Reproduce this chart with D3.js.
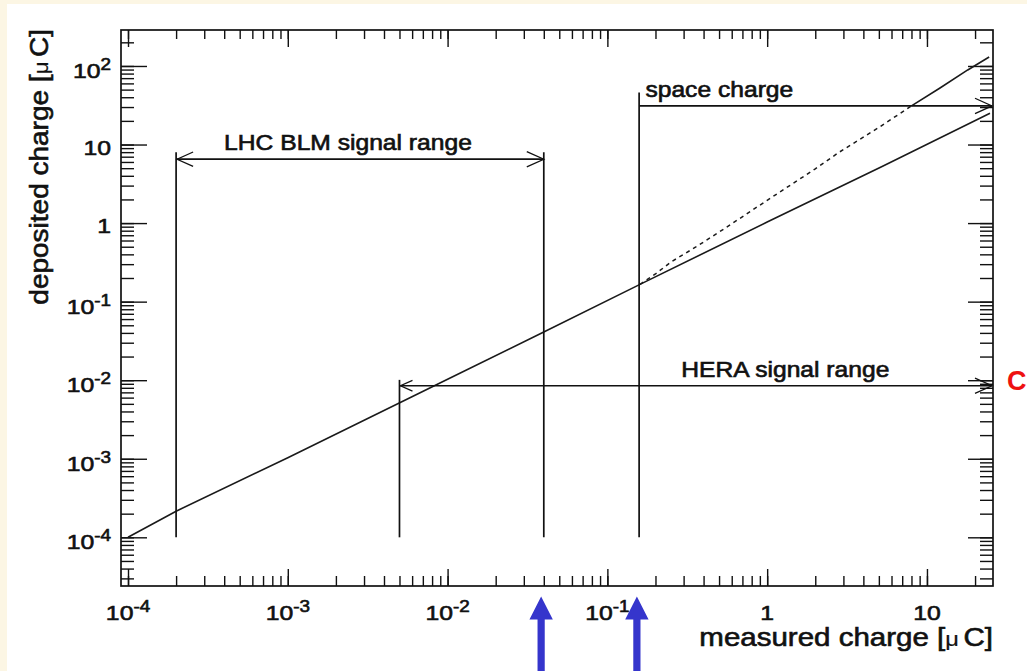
<!DOCTYPE html>
<html><head><meta charset="utf-8">
<script src="https://cdn.jsdelivr.net/npm/d3@7"></script>
<style>
body{margin:0;background:#fcf6e4}
svg{display:block}
text{font-family:"Liberation Sans",Arial,Helvetica,sans-serif;fill:#111}
</style></head>
<body><svg id="chart" width="1027" height="671"></svg>
<script>
// ---------- data ----------
const xDomain = [9.04e-5, 25.9];
const yDomain = [2.4e-5, 287];

const linearMeasured  = [1e-4, 2e-4, 1e-3, 1e-2, 0.04, 0.16, 1, 5.2, 24.8];
const linearDeposited = [1e-4, 2.15e-4, 1.03e-3, 1.03e-2, 0.041, 0.166, 1.03, 5.2, 25];

const scMeasured  = [0.16, 0.2, 0.25, 0.36, 0.55, 1, 2, 2.8, 5, 8, 12, 18, 24.5];
const scDeposited = [0.166, 0.225, 0.32, 0.5, 0.87, 1.95, 4.9, 7.9, 16.5, 31, 52, 89, 130];
const scSolidFrom = 8;

const xTickValues = [1e-4, 1e-3, 1e-2, 1e-1, 1, 10];
const xTickBase   = ["10", "10", "10", "10", "1", "10"];
const xTickExp    = ["-4", "-3", "-2", "-1", "", ""];
const yTickValues = [1e-4, 1e-3, 1e-2, 1e-1, 1, 10, 100];
const yTickBase   = ["10", "10", "10", "10", "1", "10", "10"];
const yTickExp    = ["-4", "-3", "-2", "-1", "", "", "2"];

const rangeLabels      = ["LHC BLM signal range", "space charge", "HERA signal range"];
const rangeFrom        = [2e-4, 0.158, 0.005];
const rangeTo          = [0.04, 25.9, 25.9];
const rangeLevel       = [6.5, 31, 0.0085];
const rangeArrowLeft   = [true, false, true];
const rangeArrowRight  = [true, true, true];
const rangeLabelX      = [2.38e-3, 0.173, 0.29];
const rangeLabelAnchor = ["middle", "start", "start"];

const barX      = [2e-4, 0.04, 0.158, 0.005];
const barTop    = [8, 8, 46, 0.0101];
const barBottom = 1e-4;

const markerX = [0.0385, 0.153];

const xTitle = "measured charge [";
const yTitle = "deposited charge [";
const unitMu = "\u03bc";
const unitRest = "C]";

// ---------- drawing ----------
const svg = d3.select("#chart");
const L = 121, R = 993, T = 30, B = 586;
svg.append("rect").attr("x", 0).attr("y", 0).attr("width", 1027).attr("height", 671).attr("fill", "#fcf6e4");
svg.append("rect").attr("x", 7).attr("y", 4).attr("width", 1020).attr("height", 667).attr("fill", "#ffffff");

const x = d3.scaleLog().domain(xDomain).range([L, R]);
const y = d3.scaleLog().domain(yDomain).range([B, T]);

const minorX = x.ticks().filter(v => v >= xDomain[0] && v <= xDomain[1]);
const minorY = y.ticks().filter(v => v >= yDomain[0] && v <= yDomain[1]);

function addAxis(axis, tr) {
  const g = svg.append("g").attr("transform", tr).attr("color", "#111").call(axis);
  g.select(".domain").remove();
  g.selectAll("line").attr("stroke-width", 1.4);
  g.selectAll("text").remove();
}
addAxis(d3.axisBottom(x).tickValues(minorX).tickSizeInner(-10).tickSizeOuter(0), `translate(0,${B})`);
addAxis(d3.axisBottom(x).tickValues(xTickValues).tickSizeInner(-17).tickSizeOuter(0), `translate(0,${B})`);
addAxis(d3.axisTop(x).tickValues(minorX).tickSizeInner(-9).tickSizeOuter(0), `translate(0,${T})`);
addAxis(d3.axisTop(x).tickValues(xTickValues).tickSizeInner(-17).tickSizeOuter(0), `translate(0,${T})`);
addAxis(d3.axisLeft(y).tickValues(minorY).tickSizeInner(-13).tickSizeOuter(0), `translate(${L},0)`);
addAxis(d3.axisLeft(y).tickValues(yTickValues).tickSizeInner(-26).tickSizeOuter(0), `translate(${L},0)`);
addAxis(d3.axisRight(y).tickValues(minorY).tickSizeInner(-13).tickSizeOuter(0), `translate(${R},0)`);
addAxis(d3.axisRight(y).tickValues(yTickValues).tickSizeInner(-25).tickSizeOuter(0), `translate(${R},0)`);

svg.append("rect").attr("x", L).attr("y", T).attr("width", R - L).attr("height", B - T)
  .attr("fill", "none").attr("stroke", "#111").attr("stroke-width", 1.7);

// tick labels
function powLabel(px, py, base, exp, anchor, sx) {
  const t = svg.append("text").attr("transform", `translate(${px},${py}) scale(${sx},1)`)
    .attr("text-anchor", anchor).attr("font-size", 21)
    .attr("stroke", "#111").attr("stroke-width", 0.6);
  t.append("tspan").text(base);
  if (exp) t.append("tspan").attr("font-size", 16).attr("dy", -8).text(exp);
}
xTickValues.forEach((v, i) => powLabel(x(v), 620, xTickBase[i], xTickExp[i], "middle", 1.18));
yTickValues.forEach((v, i) => powLabel(111, y(v) + (yTickExp[i] ? 12 : 10), yTickBase[i], yTickExp[i], "end", 1.18));

// axis titles
function title(tr, txt) {
  const t = svg.append("text").attr("transform", tr).attr("text-anchor", "end")
    .attr("font-size", 25).attr("stroke", "#111").attr("stroke-width", 0.6);
  t.append("tspan").text(txt);
  t.append("tspan").attr("font-size", 20).attr("stroke-width", 0.2).text(unitMu);
  t.append("tspan").attr("dx", 4).text(unitRest);
}
title(`translate(993,646) scale(1.18,1)`, xTitle);
title(`translate(48,29) rotate(-90) scale(1.12,1)`, yTitle);

// curves
const line = d3.line().x(d => x(d[0])).y(d => y(d[1]));
const linPts = d3.zip(linearMeasured, linearDeposited);
const scPts = d3.zip(scMeasured, scDeposited);
svg.append("path").attr("d", line(linPts)).attr("fill", "none").attr("stroke", "#1a1a1a").attr("stroke-width", 1.6);
svg.append("path").attr("d", line(scPts.filter(d => d[0] <= scSolidFrom))).attr("fill", "none")
  .attr("stroke", "#1a1a1a").attr("stroke-width", 1.5).attr("stroke-dasharray", "4,4");
svg.append("path").attr("d", line(scPts.filter(d => d[0] >= scSolidFrom))).attr("fill", "none")
  .attr("stroke", "#1a1a1a").attr("stroke-width", 1.6);

// range bars
barX.forEach((v, i) => {
  svg.append("line").attr("x1", x(v)).attr("x2", x(v)).attr("y1", y(barBottom)).attr("y2", y(barTop[i]))
    .attr("stroke", "#111").attr("stroke-width", 1.7);
});

// range arrows + labels
function head(px, py, dir, len) {
  svg.append("path").attr("d", `M${px - dir * len},${py - len * 0.45}L${px},${py}L${px - dir * len},${py + len * 0.45}`)
    .attr("fill", "none").attr("stroke", "#111").attr("stroke-width", 1.3);
}
rangeLabels.forEach((lab, i) => {
  const x1 = Math.max(x(rangeFrom[i]), L), x2 = Math.min(x(rangeTo[i]), R - 1);
  const yy = y(rangeLevel[i]);
  svg.append("line").attr("x1", x1).attr("x2", x2).attr("y1", yy).attr("y2", yy)
    .attr("stroke", "#111").attr("stroke-width", 1.7);
  if (rangeArrowLeft[i]) head(x1 + 1, yy, -1, i === 2 ? 12 : 16);
  if (rangeArrowRight[i]) head(x2, yy, 1, 17);
  svg.append("text").attr("transform", `translate(${x(rangeLabelX[i])},${yy - 9}) scale(1.12,1)`)
    .attr("text-anchor", rangeLabelAnchor[i]).attr("font-size", 22)
    .attr("stroke", "#111").attr("stroke-width", 0.65).text(lab);
});

// blue marker arrows
markerX.forEach(v => {
  const cx = x(v);
  svg.append("path")
    .attr("d", `M${cx},596.5L${cx + 11.7},619.5L${cx + 3.6},619.5L${cx + 3.6},671L${cx - 3.6},671L${cx - 3.6},619.5L${cx - 11.7},619.5Z`)
    .attr("fill", "#3535cc");
});

// red partial text at right edge
svg.append("text").attr("x", 1007).attr("y", 390).attr("font-size", 27).attr("font-weight", "bold")
  .style("fill", "#ee1111").text("C");
</script></body></html>
